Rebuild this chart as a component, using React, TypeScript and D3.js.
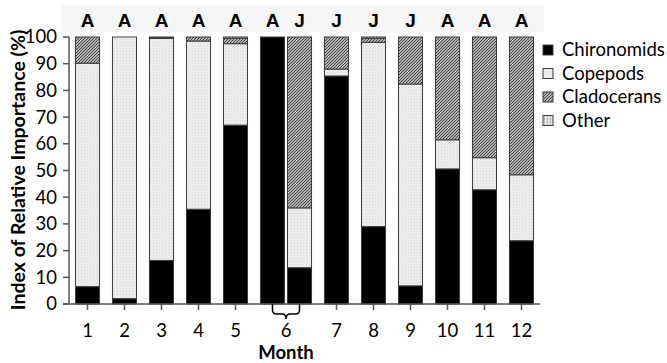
import React from 'react';
import * as d3 from 'd3';

// one entry per bar; month 6 has two bars (A and J samples)
const barMonths = [1, 2, 3, 4, 5, 6, 6, 7, 8, 9, 10, 11, 12];
const sampleType = ['A', 'A', 'A', 'A', 'A', 'A', 'J', 'J', 'J', 'J', 'A', 'A', 'A'];
const chironomids = [6.5, 2, 16.3, 35.5, 67, 100, 13.6, 85.4, 29, 6.8, 50.6, 42.8, 23.7];
const copepods = [83.7, 98, 83.2, 63, 30.5, 0, 22.4, 2.6, 69, 75.6, 10.9, 12, 24.7];
const cladocerans = [9.8, 0, 0.2, 1.5, 2, 0, 64, 12, 1.5, 17.6, 38.5, 45.2, 51.6];
const other = [0, 0, 0.3, 0, 0.5, 0, 0, 0, 0.5, 0, 0, 0, 0];

const seriesNames = ['Chironomids', 'Copepods', 'Cladocerans', 'Other'];
const yTicks = [0, 10, 20, 30, 40, 50, 60, 70, 80, 90, 100];

const fills: Record<string, string> = {
  Chironomids: '#000',
  Copepods: 'url(#pCope)',
  Cladocerans: 'url(#pClad)',
  Other: 'url(#pOther)',
};

const font = 'Lato, "Open Sans", sans-serif';

export default function App() {
  const width = 667;
  const height = 363;
  const pairStep = 0.73; // spacing of the two bars of a shared month, in month units
  const barW = 0.65;

  const months = Array.from(new Set(barMonths));
  const counts = d3.rollup(barMonths, (v) => v.length, (d) => d);
  const monthStart = new Map<number, number>();
  let acc = 0;
  months.forEach((m) => {
    monthStart.set(m, acc);
    acc += 1 + ((counts.get(m) || 1) - 1) * pairStep;
  });
  const monthCenter = (m: number) =>
    monthStart.get(m)! + (1 + ((counts.get(m) || 1) - 1) * pairStep) / 2;

  const x = d3.scaleLinear().domain([0, acc]).range([69, 540]);
  const y = d3.scaleLinear().domain([0, 100]).range([304, 37]);

  const rows = barMonths.map((m, i) => {
    const k = barMonths.slice(0, i).filter((v) => v === m).length;
    return {
      month: m,
      type: sampleType[i],
      pos: monthStart.get(m)! + 0.5 + k * pairStep,
      Chironomids: chironomids[i],
      Copepods: copepods[i],
      Cladocerans: cladocerans[i],
      Other: other[i],
    };
  });

  const stacked = d3.stack<any>().keys(seriesNames)(rows);
  const bw = x(barW) - x(0);

  // brace under month 6
  const pair = rows.filter((r) => (counts.get(r.month) || 1) > 1);
  const bx0 = x(pair[0].pos);
  const bx1 = x(pair[pair.length - 1].pos);
  const bc = (bx0 + bx1) / 2;
  const by = y(0);
  const brace = `M${bx0},${by} L${bx0},${by + 6} Q${bx0},${by + 10} ${bx0 + 4},${by + 10} L${bc - 4},${by + 10} Q${bc},${by + 10} ${bc},${by + 15} Q${bc},${by + 10} ${bc + 4},${by + 10} L${bx1 - 4},${by + 10} Q${bx1},${by + 10} ${bx1},${by + 6} L${bx1},${by}`;

  return (
    <svg width={width} height={height} style={{ display: 'block', position: 'absolute', left: 0, top: 0 }}>
      <defs>
        <pattern id="pCope" width="3" height="3" patternUnits="userSpaceOnUse">
          <rect width="3" height="3" fill="#efefef" />
          <rect x="0" y="0" width="1" height="1" fill="#d2d2d2" />
          <rect x="1.5" y="1.5" width="1" height="1" fill="#dcdcdc" />
        </pattern>
        <pattern id="pClad" width="3" height="3" patternUnits="userSpaceOnUse">
          <rect width="3" height="3" fill="#dedede" />
          <path d="M-1,1 l2,-2 M0,3 l3,-3 M2,4 l2,-2" stroke="#404040" strokeWidth="1.1" />
        </pattern>
        <pattern id="pOther" width="3" height="3" patternUnits="userSpaceOnUse">
          <rect width="3" height="3" fill="#e2e2e2" />
          <rect x="1" y="1" width="1" height="1" fill="#7a7a7a" />
        </pattern>
      </defs>

      {/* header band with sample letters */}
      <rect x={62} y={5} width={482} height={27} fill="#f6f6f6" />
      {rows.map((r, i) => (
        <text
          key={'t' + i}
          x={x(r.pos)}
          y={27}
          textAnchor="middle"
          fontFamily="'Liberation Sans', Arial, sans-serif"
          fontWeight="bold"
          fontSize={19}
          fill="#000"
        >
          {r.type}
        </text>
      ))}

      {/* bars */}
      {stacked.map((s) => (
        <g key={s.key}>
          {s.map((d, i) =>
            d[1] - d[0] > 0 ? (
              <rect
                key={i}
                x={x(rows[i].pos) - bw / 2}
                y={y(d[1])}
                width={bw}
                height={y(d[0]) - y(d[1])}
                fill={fills[s.key]}
                stroke="#3a3a3a"
                strokeWidth={1}
              />
            ) : null
          )}
        </g>
      ))}

      {/* y axis */}
      <line x1={69} x2={69} y1={y(100)} y2={y(0)} stroke="#555" strokeWidth={1.5} />
      {yTicks.map((t) => (
        <g key={t}>
          <line x1={63} x2={69} y1={y(t)} y2={y(t)} stroke="#555" strokeWidth={1.5} />
          <text x={57} y={y(t)} dy="0.35em" textAnchor="end" fontFamily={font} fontSize={18.5} fill="#000">
            {t}
          </text>
        </g>
      ))}

      {/* x axis */}
      <line x1={63} x2={540} y1={y(0)} y2={y(0)} stroke="#555" strokeWidth={1.5} />
      {months.map((m) =>
        (counts.get(m) || 1) > 1 ? null : (
          <line key={'k' + m} x1={x(monthCenter(m))} x2={x(monthCenter(m))} y1={y(0)} y2={y(0) + 6} stroke="#555" strokeWidth={1.5} />
        )
      )}
      <path d={brace} fill="none" stroke="#000" strokeWidth={1.5} />
      {months.map((m) => (
        <text key={'m' + m} x={x(monthCenter(m))} y={337} textAnchor="middle" fontFamily={font} fontSize={18.5} fill="#000">
          {m}
        </text>
      ))}
      <text x={bc} y={359} textAnchor="middle" fontFamily={font} fontWeight="bold" fontSize={18.5} fill="#000">
        Month
      </text>
      <text
        transform={`translate(25,170) rotate(-90)`}
        textAnchor="middle"
        fontFamily={font}
        fontWeight="bold"
        fontSize={19.5}
        fill="#000"
      >
        Index of Relative Importance (%)
      </text>

      {/* legend */}
      {seriesNames.map((n, i) => (
        <g key={n} transform={`translate(543,${50 + i * 23.5})`}>
          <rect x={0} y={-5} width={10} height={10} fill={fills[n]} stroke="#3a3a3a" strokeWidth={1} />
          <text x={19} y={0} dy="0.35em" fontFamily={font} fontSize={18.5} fill="#000">
            {n}
          </text>
        </g>
      ))}
    </svg>
  );
}
